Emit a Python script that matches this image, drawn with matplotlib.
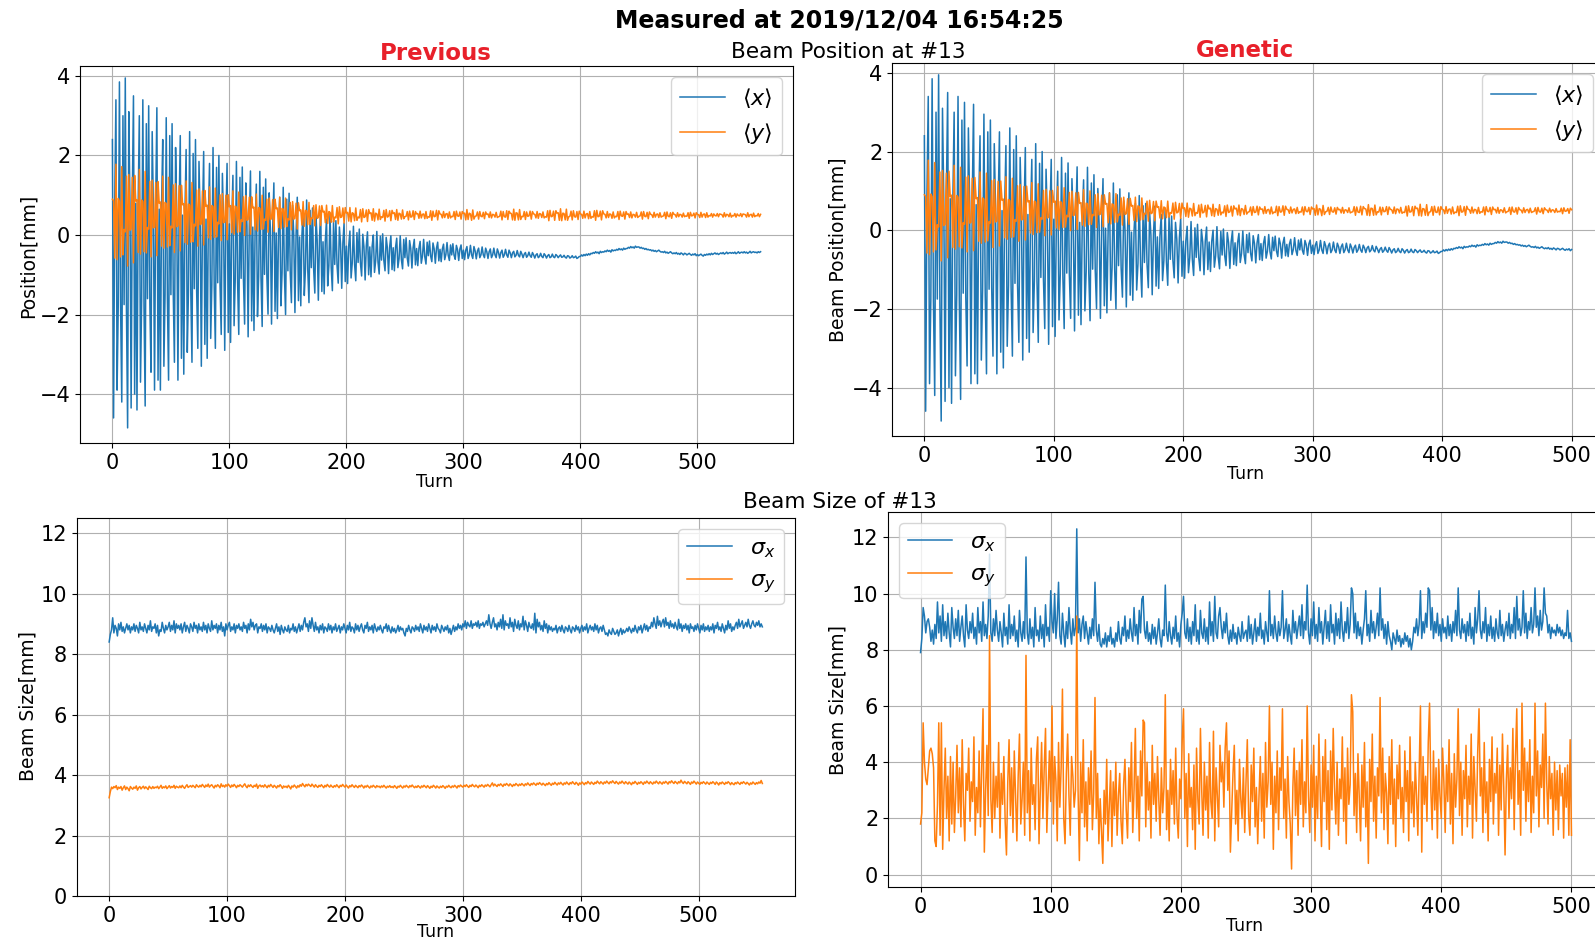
import numpy as np
import matplotlib
matplotlib.use("Agg")
import matplotlib.pyplot as plt

# Beam position at #13 (units: 0.01 mm), one value per turn 0..554
pos_x = [
    240, -460, 90, 340, -390, -175, 385, -180, -420, 300,
    -175, 395, -185, -485, 310, 80, -435, 95, 350, -400,
    80, -440, 75, 300, -370, -165, 340, -180, -430, 280,
    -160, 325, -170, -345, 260, 70, -390, 80, 320, -365,
    65, -390, 70, 240, -330, -150, 295, -160, -365, 250,
    -150, 280, -145, -320, 220, 55, -365, 60, 250, -310,
    50, -350, 55, 215, -295, -140, 260, -145, -320, 205,
    -135, 240, -140, -285, 185, 40, -330, 45, 210, -275,
    40, -310, 35, 180, -260, -125, 220, -130, -285, 170,
    -120, 200, -125, -250, 155, 30, -290, 35, 180, -245,
    28, -270, 32, 150, -228, -110, 185, -118, -250, 145,
    -109, 171, -112, -224, 131, 24, -256, 28, 161, -216,
    20, -240, 25, 128, -205, -104, 160, -108, -230, 120,
    -99, 141, -102, -199, 106, 14, -224, 18, 131, -192,
    5, -210, 10, 95, -178, -95, 120, -98, -200, 90,
    -90, 105, -95, -170, 75, 0, -195, 5, 95, -165,
    -5, -178, 0, 68, -152, -85, 88, -90, -170, 62,
    -82, 68, -86, -146, 46, -12, -164, -8, 61, -142,
    -17, -148, -13, 40, -128, -77, 55, -81, -140, 35,
    -74, 36, -77, -121, 20, -23, -134, -19, 30, -117,
    -28, -122, -26, 10, -108, -70, 22, -74, -115, 6,
    -69, 15, -71, -103, 2, -30, -113, -27, 8, -100,
    -30, -105, -28, 0, -94, -65, 9, -68, -98, -3,
    -63, 3, -64, -90, -6, -32, -97, -29, -2, -87,
    -32, -90, -31, -8, -82, -59, -2, -62, -85, -11,
    -57, -7, -58, -78, -14, -34, -83, -32, -11, -75,
    -34, -77, -33, -16, -71, -53, -11, -55, -73, -18,
    -52, -15, -53, -67, -20, -35, -71, -33, -18, -65,
    -36, -67, -35, -23, -62, -49, -19, -51, -64, -25,
    -50, -22, -51, -61, -26, -37, -64, -35, -25, -59,
    -38, -62, -38, -29, -59, -50, -26, -50, -59, -29,
    -40, -60, -40, -33, -57, -50, -30, -50, -57, -33,
    -42, -59, -42, -35, -57, -50, -33, -50, -57, -35,
    -44, -58, -44, -38, -56, -50, -36, -50, -56, -38,
    -45, -57, -45, -41, -55, -51, -39, -51, -55, -41,
    -48, -57, -48, -44, -56, -52, -43, -52, -56, -44,
    -50, -58, -50, -47, -57, -54, -46, -54, -57, -47,
    -51, -58, -52, -49, -57, -55, -48, -55, -57, -49,
    -52, -57, -53, -50, -56, -55, -51, -56, -58, -52,
    -53, -58, -56, -52, -57, -56, -53, -59, -57, -54,
    -54, -50, -53, -49, -52, -48, -51, -47, -50, -46,
    -47, -44, -46, -42, -45, -43, -47, -41, -44, -42,
    -43, -40, -42, -38, -41, -39, -43, -37, -40, -38,
    -39, -36, -38, -34, -37, -35, -38, -33, -36, -34,
    -34, -31, -33, -29, -32, -30, -33, -28, -31, -30,
    -30, -33, -31, -34, -33, -36, -34, -37, -36, -38,
    -37, -40, -38, -41, -39, -42, -40, -38, -41, -43,
    -42, -44, -41, -45, -43, -46, -44, -42, -45, -47,
    -45, -47, -44, -48, -46, -49, -45, -47, -50, -46,
    -47, -50, -48, -46, -49, -51, -48, -50, -47, -52,
    -49, -52, -50, -48, -51, -53, -49, -51, -48, -50,
    -47, -50, -46, -49, -47, -45, -48, -46, -49, -47,
    -45, -47, -44, -48, -46, -43, -47, -45, -44, -46,
    -44, -46, -43, -47, -45, -42, -46, -44, -43, -45,
    -42, -45, -43, -46, -44, -41, -45, -43, -42, -44,
    -43, -45, -42, -44, -42,
]
pos_y = [
    90, 86, -58, 178, -62, 92, 85, -55, 172, -50,
    14, 8, 148, -78, 152, 12, 15, 145, -70, 150,
    85, 89, -44, 165, -48, 88, 84, -42, 160, -45,
    19, 15, 135, -55, 138, 18, 20, 132, -52, 134,
    80, 83, -28, 148, -33, 82, 79, -30, 145, -27,
    22, 18, 126, -44, 129, 21, 23, 124, -40, 125,
    76, 79, -19, 136, -23, 78, 75, -18, 132, -17,
    27, 23, 113, -28, 116, 26, 28, 111, -25, 112,
    72, 75, -7, 121, -11, 74, 71, -6, 118, -5,
    32, 28, 101, -14, 104, 31, 33, 100, -12, 101,
    71, 74, 6, 111, 2, 73, 70, 7, 108, 8,
    38, 34, 96, -1, 99, 37, 39, 95, 2, 96,
    68, 70, 13, 103, 10, 69, 67, 14, 100, 15,
    40, 37, 90, 7, 93, 39, 41, 89, 9, 90,
    66, 68, 19, 95, 16, 67, 65, 20, 93, 21,
    41, 38, 82, 13, 84, 40, 42, 80, 15, 81,
    61, 63, 25, 84, 22, 62, 60, 26, 82, 27,
    43, 41, 74, 23, 76, 42, 44, 73, 24, 74,
    58, 60, 31, 75, 29, 59, 57, 32, 74, 33,
    45, 43, 69, 28, 71, 44, 46, 68, 30, 69,
    55, 57, 35, 69, 33, 56, 54, 36, 68, 37,
    45, 43, 64, 33, 66, 44, 46, 63, 34, 64,
    54, 56, 37, 66, 35, 55, 53, 38, 65, 39,
    46, 44, 62, 35, 64, 45, 47, 61, 36, 62,
    54, 56, 39, 64, 37, 55, 53, 40, 63, 41,
    46, 47, 59, 38, 60, 45, 46, 61, 39, 59,
    53, 54, 42, 60, 43, 52, 53, 41, 59, 42,
    46, 45, 61, 37, 60, 46, 47, 62, 38, 61,
    53, 52, 43, 59, 44, 53, 54, 42, 58, 43,
    47, 46, 59, 39, 60, 48, 47, 58, 40, 59,
    54, 55, 38, 64, 39, 55, 53, 37, 63, 40,
    47, 48, 58, 40, 59, 47, 46, 57, 41, 58,
    52, 53, 44, 58, 43, 52, 51, 45, 57, 44,
    46, 47, 60, 38, 59, 46, 45, 61, 39, 60,
    55, 54, 38, 65, 37, 56, 55, 38, 64, 39,
    47, 46, 59, 39, 58, 47, 48, 60, 40, 59,
    53, 52, 43, 59, 42, 54, 53, 44, 58, 43,
    46, 45, 61, 36, 62, 46, 47, 60, 37, 61,
    55, 56, 37, 66, 36, 55, 54, 38, 65, 37,
    46, 47, 60, 38, 61, 46, 45, 59, 39, 60,
    53, 52, 42, 60, 43, 53, 54, 41, 59, 42,
    46, 45, 61, 37, 62, 46, 47, 60, 38, 61,
    53, 52, 43, 59, 44, 53, 52, 42, 58, 43,
    47, 46, 59, 39, 60, 48, 47, 58, 40, 59,
    52, 53, 44, 58, 43, 52, 51, 45, 57, 44,
    47, 48, 58, 40, 59, 47, 46, 57, 41, 58,
    52, 51, 44, 57, 45, 52, 53, 44, 56, 45,
    47, 48, 57, 41, 58, 47, 46, 56, 42, 57,
    52, 51, 45, 56, 46, 52, 51, 45, 55, 46,
    48, 47, 56, 42, 57, 48, 49, 55, 43, 56,
    52, 51, 44, 57, 45, 52, 53, 44, 56, 45,
    49, 48, 54, 45, 53, 49, 48, 54, 46, 53,
    52, 51, 45, 56, 46, 52, 51, 46, 55, 45,
    49, 48, 54, 45, 53, 49, 48, 54, 46, 53,
    52, 51, 45, 56, 46, 51, 52, 45, 55, 46,
    49, 48, 54, 46, 52,
]

# Beam size of #13, "Previous" method (units: 0.01 mm), turn 0..554
size_x_prev = [
    840, 865, 880, 920, 870, 895, 885, 860, 900, 880,
    905, 875, 890, 870, 885, 900, 880, 895, 870, 890,
    880, 900, 875, 895, 885, 870, 905, 880, 890, 875,
    900, 885, 870, 895, 880, 910, 875, 890, 885, 900,
    870, 895, 860, 880, 875, 905, 885, 870, 895, 880,
    890, 905, 875, 895, 880, 910, 870, 900, 885, 895,
    880, 900, 870, 890, 905, 875, 895, 885, 870, 900,
    890, 875, 905, 885, 895, 870, 900, 880, 890, 875,
    905, 880, 895, 870, 900, 885, 875, 910, 880, 895,
    885, 900, 870, 895, 880, 905, 875, 890, 860, 900,
    880, 895, 905, 875, 890, 880, 900, 870, 895, 885,
    900, 880, 890, 875, 905, 885, 895, 870, 900, 880,
    915, 890, 905, 880, 895, 900, 870, 890, 885, 900,
    875, 895, 880, 900, 870, 890, 885, 875, 895, 880,
    870, 885, 900, 875, 890, 865, 895, 880, 870, 890,
    880, 875, 895, 870, 885, 880, 900, 875, 890, 870,
    885, 900, 875, 895, 880, 905, 920, 890, 900, 875,
    910, 885, 920, 895, 875, 905, 880, 890, 870, 895,
    880, 900, 870, 890, 885, 875, 900, 880, 895, 870,
    890, 880, 900, 875, 885, 895, 870, 890, 880, 900,
    885, 870, 895, 880, 905, 875, 890, 885, 870, 900,
    880, 895, 875, 890, 900, 880, 870, 895, 885, 905,
    875, 890, 880, 895, 870, 900, 885, 875, 890, 880,
    895, 880, 870, 890, 885, 900, 875, 895, 880, 870,
    890, 875, 885, 870, 880, 895, 875, 890, 880, 885,
    870, 860, 885, 875, 895, 880, 870, 890, 885, 875,
    895, 880, 890, 875, 900, 885, 870, 895, 880, 890,
    875, 900, 885, 870, 895, 880, 890, 875, 900, 885,
    880, 870, 895, 885, 875, 890, 880, 895, 870, 885,
    865, 880, 895, 875, 890, 880, 900, 885, 895, 880,
    900, 890, 910, 885, 905, 895, 890, 910, 885, 900,
    895, 905, 890, 910, 885, 900, 895, 905, 890, 900,
    910, 895, 930, 900, 885, 905, 920, 890, 900, 880,
    905, 890, 915, 885, 930, 880, 910, 895, 900, 885,
    920, 890, 905, 875, 915, 895, 885, 910, 880, 900,
    890, 925, 880, 910, 895, 875, 905, 890, 885, 900,
    880, 935, 870, 915, 890, 905, 880, 895, 875, 910,
    885, 900, 870, 895, 880, 890, 875, 885, 880, 895,
    870, 885, 890, 875, 895, 880, 870, 890, 885, 875,
    895, 880, 870, 890, 885, 875, 895, 880, 890, 870,
    885, 895, 875, 890, 880, 900, 870, 885, 895, 880,
    890, 875, 900, 880, 895, 870, 885, 890, 875, 895,
    880, 865, 870, 860, 880, 870, 865, 885, 875, 865,
    870, 880, 860, 875, 885, 865, 880, 870, 875, 885,
    875, 890, 880, 870, 885, 875, 895, 880, 870, 890,
    880, 895, 870, 885, 900, 880, 895, 875, 890, 885,
    905, 890, 920, 900, 885, 925, 895, 910, 890, 905,
    915, 890, 920, 895, 905, 885, 910, 890, 900, 885,
    905, 890, 880, 915, 885, 900, 875, 895, 885, 900,
    880, 895, 870, 900, 885, 890, 875, 895, 880, 900,
    885, 870, 895, 880, 900, 875, 890, 880, 895, 875,
    890, 880, 900, 870, 895, 885, 905, 880, 890, 875,
    900, 885, 870, 895, 880, 910, 885, 900, 875, 890,
    880, 895, 905, 885, 915, 890, 900, 910, 885, 895,
    905, 890, 915, 895, 885, 900, 910, 895, 890, 905,
    895, 910, 890, 900, 890,
]
size_y_prev = [
    325, 345, 360, 355, 362, 358, 365, 352, 360, 356,
    362, 350, 358, 364, 352, 360, 355, 348, 362, 357,
    353, 360, 356, 364, 350, 358, 362, 354, 359, 363,
    355, 361, 357, 352, 363, 358, 355, 362, 356, 360,
    358, 363, 355, 360, 366, 356, 361, 358, 364, 355,
    360, 365, 357, 362, 359, 366, 356, 363, 360, 358,
    364, 358, 366, 360, 356, 363, 368, 359, 362, 365,
    360, 366, 362, 358, 368, 363, 360, 366, 361, 369,
    364, 359, 367, 362, 370, 360, 365, 368, 362, 357,
    366, 361, 368, 364, 358, 371, 362, 366, 360, 368,
    363, 370, 365, 359, 367, 362, 369, 364, 358, 366,
    362, 368, 364, 360, 366, 371, 363, 358, 367, 362,
    368, 363, 359, 366, 362, 370, 356, 364, 367, 361,
    365, 360, 368, 363, 358, 366, 361, 369, 364, 359,
    366, 362, 357, 365, 361, 368, 363, 356, 364, 360,
    363, 358, 366, 361, 354, 364, 360, 367, 362, 357,
    365, 360, 368, 363, 372, 366, 361, 369, 364, 370,
    366, 362, 370, 365, 360, 368, 363, 359, 366, 362,
    368, 363, 358, 366, 361, 369, 364, 360, 367, 362,
    359, 365, 361, 368, 363, 358, 366, 362, 369, 364,
    360, 367, 362, 357, 365, 361, 368, 363, 359, 366,
    362, 358, 365, 361, 367, 363, 357, 364, 360, 366,
    361, 357, 364, 360, 366, 362, 358, 365, 361, 363,
    358, 364, 360, 366, 361, 357, 363, 360, 365, 359,
    362, 358, 365, 361, 356, 363, 360, 366, 361, 357,
    364, 360, 366, 362, 358, 365, 361, 367, 362, 358,
    363, 359, 365, 361, 357, 364, 360, 366, 362, 358,
    365, 361, 356, 363, 359, 366, 362, 357, 364, 360,
    357, 363, 359, 365, 361, 356, 363, 360, 366, 361,
    358, 364, 360, 366, 362, 357, 365, 361, 367, 363,
    360, 366, 362, 368, 363, 359, 366, 362, 369, 364,
    361, 367, 363, 358, 366, 362, 368, 364, 360, 367,
    363, 369, 365, 361, 368, 374, 364, 370, 366, 362,
    369, 365, 371, 367, 362, 370, 366, 372, 368, 364,
    371, 367, 362, 369, 365, 372, 368, 364, 370, 366,
    372, 368, 364, 371, 367, 374, 369, 365, 372, 368,
    374, 370, 366, 373, 369, 375, 371, 367, 373, 369,
    365, 372, 368, 375, 370, 366, 373, 369, 376, 371,
    367, 374, 370, 376, 371, 367, 374, 370, 377, 372,
    368, 375, 371, 378, 373, 369, 376, 372, 366, 374,
    370, 377, 373, 368, 375, 371, 379, 374, 370, 377,
    373, 369, 376, 372, 380, 375, 371, 378, 374, 370,
    377, 373, 380, 375, 371, 378, 374, 381, 376, 372,
    379, 374, 370, 377, 373, 380, 375, 371, 378, 374,
    370, 377, 373, 368, 376, 372, 379, 374, 369, 376,
    372, 378, 374, 369, 377, 373, 380, 375, 371, 378,
    374, 370, 377, 373, 380, 375, 371, 378, 374, 370,
    377, 373, 379, 375, 370, 378, 374, 381, 376, 372,
    379, 375, 371, 378, 374, 383, 376, 372, 379, 375,
    371, 378, 374, 369, 377, 373, 380, 375, 370, 377,
    373, 369, 376, 372, 378, 374, 370, 377, 373, 369,
    376, 372, 378, 374, 369, 377, 373, 367, 375, 371,
    377, 373, 369, 376, 372, 378, 374, 368, 375, 371,
    368, 375, 371, 377, 373, 369, 376, 372, 378, 374,
    370, 376, 372, 367, 374, 370, 377, 373, 369, 375,
    371, 377, 373, 382, 372,
]

# Beam size of #13, "Genetic" method (units: 0.1 mm), turn 0..500
size_x_gen = [
    79, 84, 95, 92, 86, 90, 91, 88, 83, 87,
    82, 89, 84, 97, 86, 92, 83, 96, 85, 90,
    84, 93, 86, 81, 95, 88, 84, 91, 85, 94,
    83, 88, 92, 85, 81, 96, 87, 84, 90, 86,
    93, 84, 88, 82, 95, 86, 90, 83, 97, 85,
    89, 84, 92, 114, 86, 83, 91, 85, 94, 87,
    83, 90, 86, 81, 93, 85, 88, 82, 96, 84,
    89, 85, 92, 83, 87, 81, 94, 86, 83, 90,
    84, 113, 86, 82, 91, 84, 88, 81, 95, 85,
    87, 83, 92, 84, 89, 81, 96, 85, 88, 83,
    101, 90, 86, 100, 84, 91, 104, 85, 82, 93,
    86, 81, 90, 84, 95, 87, 82, 91, 85, 88,
    123, 86, 91, 83, 89, 92, 84, 90, 86, 82,
    88, 84, 91, 85, 104, 87, 83, 89, 82, 81,
    84, 82, 86, 81, 85, 83, 88, 82, 84, 81,
    86, 83, 90, 84, 82, 88, 85, 92, 83, 87,
    84, 91, 86, 83, 95, 85, 89, 82, 94, 86,
    98, 99, 87, 84, 90, 83, 86, 82, 89, 84,
    88, 82, 86, 91, 84, 81, 87, 85, 103, 86,
    83, 90, 85, 82, 88, 84, 92, 83, 86, 81,
    89, 93, 99, 86, 84, 91, 83, 88, 82, 90,
    85, 96, 83, 87, 82, 94, 86, 84, 91, 83,
    88, 82, 97, 85, 90, 83, 99, 86, 84, 92,
    95, 88, 84, 90, 86, 93, 85, 82, 87, 83,
    89, 84, 86, 82, 88, 85, 83, 90, 84, 86,
    87, 83, 92, 84, 89, 82, 86, 91, 83, 88,
    85, 93, 84, 87, 82, 90, 86, 83, 101, 85,
    89, 84, 92, 86, 83, 90, 85, 88, 101, 84,
    87, 91, 83, 89, 85, 82, 94, 86, 90, 84,
    88, 92, 85, 96, 84, 90, 87, 103, 86, 82,
    91, 85, 97, 84, 89, 83, 95, 86, 90, 82,
    88, 94, 84, 90, 83, 96, 86, 89, 82, 93,
    85, 91, 84, 97, 87, 83, 90, 86, 95, 84,
    89, 102, 100, 86, 93, 84, 90, 85, 88, 82,
    87, 91, 101, 85, 89, 83, 94, 86, 90, 84,
    88, 93, 85, 102, 87, 91, 84, 89, 82, 90,
    85, 83, 80, 86, 84, 82, 87, 83, 85, 81,
    84, 82, 86, 83, 85, 81, 84, 80, 83, 88,
    86, 91, 85, 89, 101, 84, 90, 86, 93, 88,
    102, 101, 87, 95, 84, 90, 86, 93, 85, 89,
    83, 91, 86, 88, 84, 92, 85, 89, 83, 90,
    86, 94, 85, 102, 87, 84, 91, 86, 89, 83,
    90, 85, 93, 84, 88, 82, 95, 86, 91, 101,
    87, 84, 90, 86, 95, 83, 89, 85, 92, 84,
    88, 83, 91, 86, 84, 94, 85, 89, 83, 87,
    90, 85, 93, 84, 89, 86, 95, 84, 99, 87,
    91, 85, 88, 101, 86, 93, 84, 90, 87, 95,
    86, 89, 102, 88, 92, 85, 94, 87, 90, 102,
    93, 92, 86, 89, 84, 88, 86, 87, 85, 89,
    86, 88, 85, 87, 84, 86, 85, 94, 84, 86,
    83,
]
size_y_gen = [
    18, 22, 54, 40, 34, 32, 38, 44, 45, 43,
    38, 12, 10, 25, 54, 14, 54, 9, 30, 45,
    20, 35, 12, 42, 18, 40, 15, 28, 46, 22,
    38, 17, 48, 25, 12, 36, 30, 45, 19, 33,
    26, 49, 14, 31, 22, 44, 17, 38, 59, 8,
    30, 46, 21, 85, 27, 15, 40, 20, 35, 24,
    47, 13, 36, 25, 42, 19, 7, 33, 48, 21,
    38, 15, 44, 28, 12, 35, 50, 18, 27, 40,
    14, 78, 22, 37, 12, 45, 25, 32, 16, 41,
    49, 11, 30, 47, 20, 38, 52, 15, 29, 44,
    26, 60, 18, 42, 33, 12, 47, 24, 38, 66,
    20, 11, 36, 50, 28, 14, 42, 35, 24, 30,
    92, 30, 5, 40, 22, 48, 17, 33, 12, 38,
    25, 44, 16, 29, 63, 20, 36, 11, 27, 15,
    4, 30, 18, 41, 12, 25, 37, 10, 33, 21,
    40, 14, 28, 36, 19, 11, 32, 41, 23, 13,
    38, 26, 47, 15, 30, 52, 20, 35, 12, 44,
    28, 55, 54, 17, 40, 23, 33, 13, 46, 25,
    36, 19, 42, 27, 14, 38, 22, 31, 64, 16,
    30, 12, 41, 25, 37, 18, 45, 21, 13, 34,
    27, 48, 59, 20, 36, 10, 43, 24, 31, 16,
    39, 9, 45, 27, 18, 52, 30, 14, 40, 23,
    35, 13, 47, 26, 20, 51, 12, 38, 28, 17,
    46, 33, 40, 24, 45, 54, 30, 44, 8, 22,
    36, 46, 18, 30, 12, 41, 27, 20, 38, 15,
    33, 48, 21, 14, 39, 26, 45, 17, 31, 11,
    28, 42, 19, 36, 13, 47, 24, 33, 60, 25,
    40, 9, 35, 22, 44, 16, 38, 30, 59, 20,
    34, 13, 42, 26, 18, 2, 31, 45, 21, 37,
    14, 40, 25, 48, 17, 33, 22, 60, 28, 15,
    39, 24, 46, 12, 35, 20, 50, 29, 10, 42,
    26, 48, 16, 37, 9, 44, 23, 52, 31, 18,
    40, 14, 34, 27, 49, 19, 38, 11, 45, 25,
    32, 64, 58, 21, 36, 15, 43, 28, 12, 39,
    24, 47, 17, 33, 4, 41, 26, 50, 19, 35,
    13, 38, 28, 63, 22, 45, 16, 36, 29, 11,
    42, 25, 48, 18, 34, 10, 39, 27, 46, 20,
    31, 15, 44, 26, 37, 12, 49, 22, 33, 17,
    40, 28, 14, 36, 60, 8, 42, 25, 35, 19,
    47, 61, 30, 16, 44, 23, 38, 13, 41, 28,
    20, 45, 33, 15, 39, 26, 48, 18, 36, 11,
    43, 24, 34, 59, 21, 40, 14, 37, 27, 46,
    17, 35, 25, 50, 13, 42, 30, 19, 44, 59,
    28, 38, 15, 47, 22, 33, 12, 41, 26, 49,
    18, 36, 29, 45, 14, 39, 23, 50, 31, 7,
    34, 46, 20, 38, 27, 52, 16, 42, 59, 25,
    37, 14, 61, 30, 45, 19, 40, 26, 48, 15,
    35, 22, 61, 28, 44, 17, 39, 31, 50, 20,
    61, 33, 18, 42, 27, 36, 14, 40, 23, 37,
    16, 39, 28, 36, 13, 38, 24, 39, 14, 48,
    14,
]

BLUE = "#1f77b4"
ORANGE = "#ff7f0e"
RED = "#e8202a"

W, H = 1595, 941
fig = plt.figure(figsize=(W / 100, H / 100), dpi=100)


def box(left, top, right, bottom):
    # pixel box -> figure fraction
    return [left / W, 1 - bottom / H, (right - left) / W, (bottom - top) / H]


ax_tl = fig.add_axes(box(80, 66, 793, 443))
ax_tr = fig.add_axes(box(892, 63, 1604, 436))
ax_bl = fig.add_axes(box(76.5, 518, 795, 896))
ax_br = fig.add_axes(box(888, 512, 1604, 887))

px = np.array(pos_x) / 100
py = np.array(pos_y) / 100
t_prev = np.arange(len(px))
n_gen = len(size_x_gen)
t_gen = np.arange(n_gen)

ax_tl.plot(t_prev, px, color=BLUE, lw=1.1, label=r"$\langle x\rangle$")
ax_tl.plot(t_prev, py, color=ORANGE, lw=1.1, label=r"$\langle y\rangle$")
ax_tr.plot(t_gen, px[:n_gen], color=BLUE, lw=1.1, label=r"$\langle x\rangle$")
ax_tr.plot(t_gen, py[:n_gen], color=ORANGE, lw=1.1, label=r"$\langle y\rangle$")

ax_bl.plot(t_prev, np.array(size_x_prev) / 100, color=BLUE, lw=1.1, label=r"$\sigma_x$")
ax_bl.plot(t_prev, np.array(size_y_prev) / 100, color=ORANGE, lw=1.1, label=r"$\sigma_y$")
ax_br.plot(t_gen, np.array(size_x_gen) / 10, color=BLUE, lw=1.1, label=r"$\sigma_x$")
ax_br.plot(t_gen, np.array(size_y_gen) / 10, color=ORANGE, lw=1.1, label=r"$\sigma_y$")

for ax in (ax_tl, ax_bl):
    ax.set_xlim(-27.7, 581.7)
for ax in (ax_tr, ax_br):
    ax.set_xlim(-25, 525)
for ax in (ax_tl, ax_tr):
    ax.set_ylim(-5.23, 4.25)
    ax.set_yticks([-4, -2, 0, 2, 4])
ax_bl.set_ylim(0, 12.5)
ax_br.set_ylim(-0.44, 12.9)
for ax in (ax_bl, ax_br):
    ax.set_yticks([0, 2, 4, 6, 8, 10, 12])

for ax in (ax_tl, ax_tr, ax_bl, ax_br):
    ax.set_xticks([0, 100, 200, 300, 400, 500])
    ax.grid(True, color="#b0b0b0", lw=0.8)
    ax.tick_params(labelsize=15)

ax_tl.legend(loc="upper right", fontsize=16)
ax_tr.legend(loc="upper right", fontsize=16)
ax_bl.legend(loc="upper right", fontsize=16)
ax_br.legend(loc="upper left", fontsize=16)

# titles
fig.text(839 / W, 1 - 28 / H, "Measured at 2019/12/04 16:54:25",
         ha="center", va="baseline", fontsize=17, fontweight="bold")
fig.text(848 / W, 1 - 58 / H, "Beam Position at #13",
         ha="center", va="baseline", fontsize=15.6)
fig.text(840 / W, 1 - 508 / H, "Beam Size of #13",
         ha="center", va="baseline", fontsize=15.6)
fig.text(436 / W, 1 - 60 / H, "Previous", color=RED,
         ha="center", va="baseline", fontsize=16.5, fontweight="bold")
fig.text(1245 / W, 1 - 57 / H, "Genetic", color=RED,
         ha="center", va="baseline", fontsize=16.5, fontweight="bold")

# axis labels
for x, y, s in [(435, 482, "Turn"), (1246, 474, "Turn"),
                (436, 932, "Turn"), (1245, 926, "Turn")]:
    fig.text(x / W, 1 - y / H, s, ha="center", va="center", fontsize=12.5)
for x, y, s in [(28, 256, "Position[mm]"), (838, 250, "Beam Position[mm]"),
                (28, 706, "Beam Size[mm]"), (838, 700, "Beam Size[mm]")]:
    fig.text(x / W, 1 - y / H, s, ha="center", va="center", rotation=90, fontsize=13.5)

fig.savefig("out.png", dpi=100)
